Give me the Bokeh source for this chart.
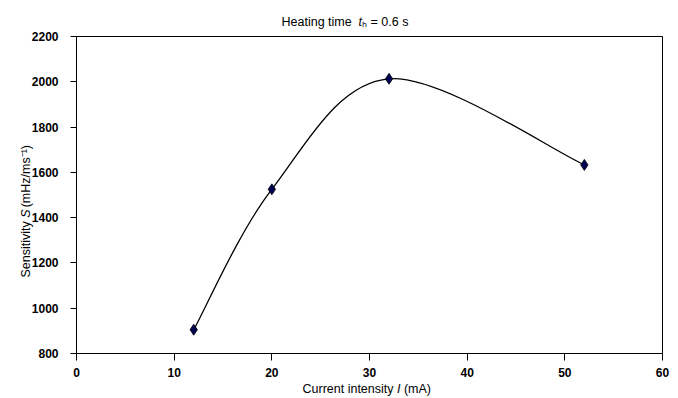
import math
from bokeh.plotting import figure
from bokeh.models import Label, Range1d, FixedTicker
from bokeh.embed import file_html
from bokeh.resources import INLINE

# ---- data ----
current_mA = [12, 20, 32, 52]
sensitivity = [905, 1525, 2013, 1633]
x_ticks = [0, 10, 20, 30, 40, 50, 60]
y_ticks = [800, 1000, 1200, 1400, 1600, 1800, 2000, 2200]

W, H = 678, 398
FL, FR, FT, FB = 76, 662, 36, 353   # frame edges in px
X0, X1, Y0, Y1 = 0, 60, 800, 2200
FONT = "Liberation Sans"

p = figure(width=W, height=H, output_backend="svg", toolbar_location=None,
           x_range=Range1d(X0, X1), y_range=Range1d(Y0, Y1),
           min_border_left=FL, min_border_right=W - FR,
           min_border_top=FT, min_border_bottom=H - FB)
p.grid.visible = False
p.outline_line_color = "black"
p.outline_line_width = 1
p.outline_line_alpha = 1.0
p.background_fill_color = "white"
p.border_fill_color = "white"

for ax in (p.xaxis, p.yaxis):
    ax.axis_line_color = "black"
    ax.axis_line_width = 1
    ax.major_tick_line_color = "black"
    ax.major_tick_in = 0
    ax.minor_tick_line_color = None
    ax.major_label_text_font = FONT
    ax.major_label_text_font_size = "12px"
    ax.major_label_text_font_style = "bold"
    ax.major_label_text_color = "black"

p.xaxis.ticker = FixedTicker(ticks=x_ticks)
p.yaxis.ticker = FixedTicker(ticks=y_ticks)
p.xaxis.major_tick_out = 7
p.yaxis.major_tick_out = 6
p.xaxis.major_label_standoff = 7
p.yaxis.major_label_standoff = 12
p.yaxis.major_label_text_baseline = "alphabetic"

# ---- smooth curve (Excel-like cubic Bezier through the points) ----
n = len(current_mA)
bx0, by0, bx1, by1, cx0, cy0, cx1, cy1 = [], [], [], [], [], [], [], []
for i in range(n - 1):
    xa, ya = current_mA[i], sensitivity[i]
    xb, yb = current_mA[i + 1], sensitivity[i + 1]
    xp, yp = current_mA[max(i - 1, 0)], sensitivity[max(i - 1, 0)]
    xn, yn = current_mA[min(i + 2, n - 1)], sensitivity[min(i + 2, n - 1)]
    bx0.append(xa); by0.append(ya); bx1.append(xb); by1.append(yb)
    cx0.append(xa + (xb - xp) / 6.0); cy0.append(ya + (yb - yp) / 6.0)
    cx1.append(xb - (xn - xa) / 6.0); cy1.append(yb - (yn - ya) / 6.0)
p.bezier(x0=bx0, y0=by0, x1=bx1, y1=by1, cx0=cx0, cy0=cy0, cx1=cx1, cy1=cy1,
         line_color="black", line_width=1.3)

p.scatter(current_mA, sensitivity, marker="diamond", size=11,
          fill_color="#000050", line_color="#000000", line_width=0.8)

# ---- text (canvas units: x from left, y from top) ----
NB = "\u00a0"
AW = {'H': 722, 'e': 556, 'a': 556, 't': 278, 'i': 222, 'n': 556, 'g': 556, ' ': 278,
      NB: 278, 'm': 833, '=': 584, '0': 556, '.': 278, '6': 556, 's': 500, 'h': 556,
      'S': 667, 'v': 500, 'y': 500, '(': 333, ')': 333, 'z': 500, '/': 278, '-': 333,
      '1': 556, 'C': 722, 'u': 556, 'r': 333, 'I': 278, 'A': 667}
TS = 12.5


def tw(s, size=TS):
    return sum(AW.get(c, 556) for c in s) * size / 1000.0


def lab(x, y, txt, style, place, angle=0.0):
    p.add_layout(Label(x=x, y=y, x_units="canvas", y_units="canvas", text=txt,
                       angle=angle, text_font=FONT, text_font_size=f"{TS}px",
                       text_font_style=style, text_color="black",
                       text_align="left", text_baseline="alphabetic"), place)


# title: "Heating time t_h = 0.6 s" (italic t laid into the gap)
title_head = "Heating time" + NB + NB
title_rest = NB + "\u2095 = 0.6 s"
lab(281, 21, title_head + title_rest, "normal", "above")
lab(281 + tw(title_head), 21, "t", "italic", "above")

# x axis title: "Current intensity I (mA)"
x_head = "Current intensity" + NB
x_rest = NB + NB + "(mA)"
lab(302, 388, x_head + x_rest, "normal", "below")
lab(302 + tw(x_head), 388, "I", "italic", "right")

# y axis title: "Sensitivity S (mHz/ms^-1)", rotated
y_head = "Sensitivity" + NB
y_rest = NB + NB + NB + "(mHz/ms\u207b\u00b9)"
lab(25, 277, y_head + y_rest, "normal", "left", math.pi / 2)
lab(25, 277 - tw(y_head), "S", "italic", "left", math.pi / 2)

open("out.html", "w").write(file_html(p, INLINE))
